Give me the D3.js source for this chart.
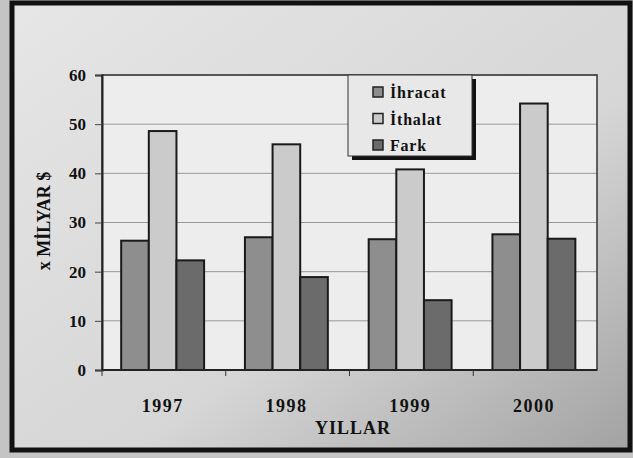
<!DOCTYPE html>
<html>
<head>
<meta charset="utf-8">
<script src="https://cdn.jsdelivr.net/npm/d3@7"></script>
<style>
  body { margin: 0; background: #fff; }
  svg text { font-family: "Liberation Serif", "DejaVu Serif", serif; font-weight: bold; fill: #111; }
</style>
</head>
<body>
<div id="chart"></div>
<script>
'use strict';

var years = ['1997', '1998', '1999', '2000'];
var series = ['İhracat', 'İthalat', 'Fark'];
var ihracat = [26.3, 27.0, 26.6, 27.6];
var ithalat = [48.6, 45.9, 40.8, 54.2];
var fark = [22.3, 18.9, 14.2, 26.7];
var yTicks = [0, 10, 20, 30, 40, 50, 60];

var values = { 'İhracat': ihracat, 'İthalat': ithalat, 'Fark': fark };
var colors = { 'İhracat': '#8e8e8e', 'İthalat': '#cbcbcb', 'Fark': '#6b6b6b' };

var width = 633, height = 458;
var margin = { top: 75, right: 36, bottom: 88, left: 102 };
var plotW = width - margin.left - margin.right;
var plotH = height - margin.top - margin.bottom;

var svg = d3.select('#chart')
  .append('svg')
  .attr('width', width)
  .attr('height', height);

// scanned page look
var defs = svg.append('defs');
var grad = defs.append('linearGradient')
  .attr('id', 'bg')
  .attr('x1', '0%').attr('y1', '0%')
  .attr('x2', '100%').attr('y2', '100%');
grad.append('stop').attr('offset', '0%').attr('stop-color', '#e6e6e6');
grad.append('stop').attr('offset', '60%').attr('stop-color', '#d6d6d6');
grad.append('stop').attr('offset', '100%').attr('stop-color', '#a2a2a2');

svg.append('rect')
  .attr('width', width).attr('height', height)
  .attr('fill', '#c4c4c4');
svg.append('rect')
  .attr('x', 12).attr('y', 3)
  .attr('width', 618).attr('height', 447)
  .attr('fill', 'url(#bg)')
  .attr('stroke', '#111')
  .attr('stroke-width', 5);

var g = svg.append('g')
  .attr('transform', 'translate(' + margin.left + ',' + margin.top + ')');

var x0 = d3.scaleBand()
  .domain(years)
  .range([0, plotW])
  .padding(0);

var x1 = d3.scaleBand()
  .domain(series)
  .range([x0.bandwidth() * 0.155, x0.bandwidth() * 0.825])
  .padding(0);

var y = d3.scaleLinear()
  .domain([0, 60])
  .range([plotH, 0]);

// plot background
g.append('rect')
  .attr('width', plotW).attr('height', plotH)
  .attr('fill', '#ededed');

// gridlines
g.selectAll('.grid')
  .data(yTicks.slice(1))
  .enter()
  .append('line')
  .attr('x1', 0).attr('x2', plotW)
  .attr('y1', function(d) { return y(d); })
  .attr('y2', function(d) { return y(d); })
  .attr('stroke', '#999')
  .attr('stroke-width', 1);

// bars
var groups = g.selectAll('.year')
  .data(years)
  .enter()
  .append('g')
  .attr('transform', function(d) { return 'translate(' + x0(d) + ',0)'; });

groups.selectAll('rect')
  .data(function(d, i) {
    return series.map(function(s) { return { key: s, value: values[s][i] }; });
  })
  .enter()
  .append('rect')
  .attr('x', function(d) { return x1(d.key); })
  .attr('width', x1.bandwidth())
  .attr('y', function(d) { return y(d.value); })
  .attr('height', function(d) { return plotH - y(d.value); })
  .attr('fill', function(d) { return colors[d.key]; })
  .attr('stroke', '#1a1a1a')
  .attr('stroke-width', 2);

// frame
g.append('rect')
  .attr('width', plotW).attr('height', plotH)
  .attr('fill', 'none')
  .attr('stroke', '#333')
  .attr('stroke-width', 1.5);

// y axis
var yAxis = g.append('g')
  .call(d3.axisLeft(y).tickValues(yTicks).tickSize(7).tickPadding(9));
yAxis.select('.domain').attr('stroke', '#222').attr('stroke-width', 2);
yAxis.selectAll('.tick line').attr('stroke', '#444');
yAxis.selectAll('text')
  .style('font-size', '17px')
  .attr('fill', '#111');

// x axis: ticks between categories
var xAxis = g.append('g')
  .attr('transform', 'translate(0,' + plotH + ')');
xAxis.append('line')
  .attr('x1', 0).attr('x2', plotW)
  .attr('stroke', '#222').attr('stroke-width', 2);
xAxis.selectAll('.xt')
  .data(years)
  .enter()
  .append('line')
  .attr('x1', function(d) { return x0(d); })
  .attr('x2', function(d) { return x0(d); })
  .attr('y1', 0).attr('y2', 6)
  .attr('stroke', '#333');
xAxis.selectAll('.xl')
  .data(years)
  .enter()
  .append('text')
  .attr('x', function(d) { return x0(d) + x0.bandwidth() * 0.49; })
  .attr('y', 42)
  .attr('text-anchor', 'middle')
  .style('font-size', '18px')
  .style('letter-spacing', '1.5px')
  .text(function(d) { return d; });

// axis titles
svg.append('text')
  .attr('x', 353)
  .attr('y', 434)
  .attr('text-anchor', 'middle')
  .style('font-size', '18px')
  .style('letter-spacing', '1px')
  .text('YILLAR');

svg.append('text')
  .attr('transform', 'translate(50,221) rotate(-90)')
  .attr('text-anchor', 'middle')
  .style('font-size', '18px')
  .text('x MİLYAR $');

// legend
var legend = svg.append('g')
  .attr('transform', 'translate(348,75)');
legend.append('rect')
  .attr('x', 4).attr('y', 4)
  .attr('width', 124).attr('height', 81)
  .attr('fill', '#111');
legend.append('rect')
  .attr('width', 124).attr('height', 81)
  .attr('fill', '#e8e8e8')
  .attr('stroke', '#333')
  .attr('stroke-width', 1);

var item = legend.selectAll('.legend')
  .data(series)
  .enter()
  .append('g')
  .attr('class', 'legend')
  .attr('transform', function(d, i) { return 'translate(25,' + (12 + i * 26.5) + ')'; });
item.append('rect')
  .attr('width', 10).attr('height', 10)
  .attr('fill', function(d) { return colors[d]; })
  .attr('stroke', '#222')
  .attr('stroke-width', 1.5);
item.append('text')
  .attr('x', 17)
  .attr('y', 11)
  .style('font-size', '16px')
  .style('letter-spacing', '0.8px')
  .text(function(d) { return d; });
</script>
</body>
</html>
